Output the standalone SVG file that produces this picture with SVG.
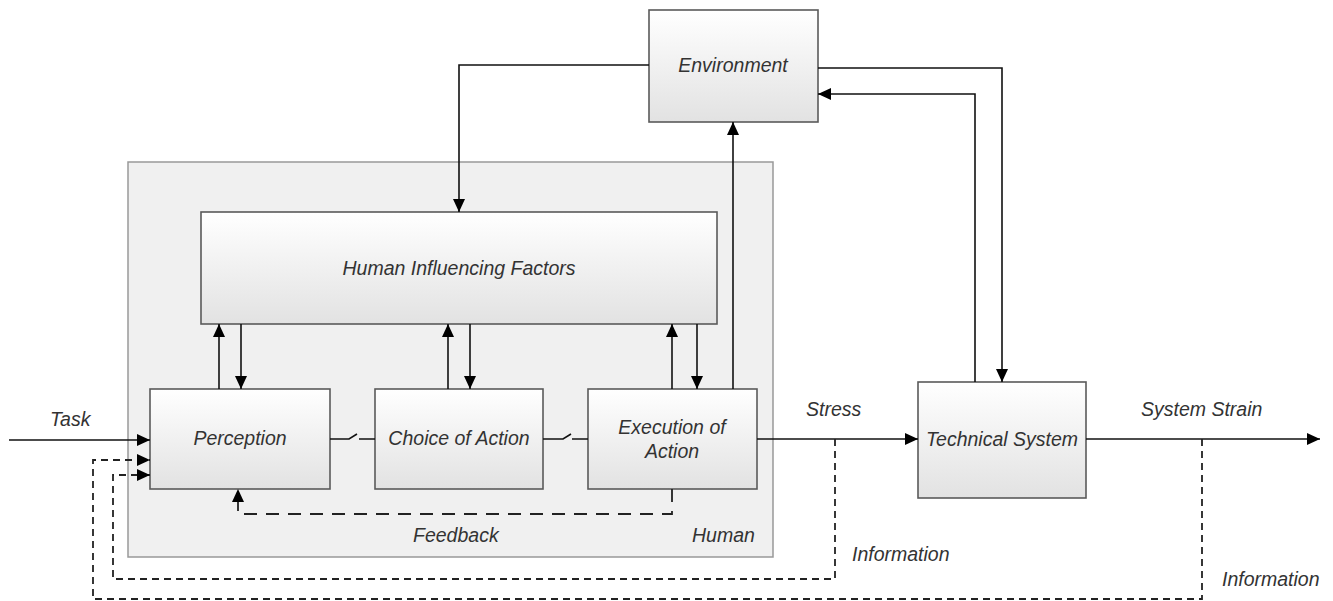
<svg xmlns="http://www.w3.org/2000/svg" width="1333" height="601" viewBox="0 0 1333 601">
  <style>
    .box { fill: url(#boxFill); stroke: #5a5a5a; stroke-width: 1.6; }
    .frame { fill: #f0f0f0; stroke: #999; stroke-width: 1.5; }
    .lbl { font-family: "Liberation Sans", Arial, sans-serif; font-style: italic; font-size: 19.5px; fill: #333; }
    .mid { text-anchor: middle; }
    .ln { fill: none; stroke: #111; stroke-width: 1.6; }
    .arr { marker-end: url(#head); }
    .info { fill: none; stroke: #222; stroke-width: 1.8; stroke-dasharray: 7 5; }
    .fb { fill: none; stroke: #222; stroke-width: 1.8; stroke-dasharray: 13 9; }
  </style>
  <defs>
    <linearGradient id="boxFill" x1="0" y1="0" x2="0" y2="1">
      <stop offset="0" stop-color="#ffffff"/>
      <stop offset="1" stop-color="#e2e2e2"/>
    </linearGradient>
    <marker id="head" markerUnits="userSpaceOnUse" markerWidth="13" markerHeight="12" refX="13" refY="6" orient="auto">
      <path d="M0,0 L13,6 L0,12 z" fill="#000"/>
    </marker>
  </defs>

  <rect width="1333" height="601" fill="#fff"/>

  <!-- container -->
  <g id="human">
    <rect class="frame" x="128" y="162" width="645" height="395"/>
    <text class="lbl" x="692" y="542">Human</text>
  </g>

  <g id="environment">
    <rect class="box" x="649" y="10" width="169" height="112"/>
    <text class="lbl mid" x="733" y="72">Environment</text>
  </g>

  <g id="influencing-factors">
    <rect class="box" x="201" y="212" width="516" height="112"/>
    <text class="lbl mid" x="459" y="275">Human Influencing Factors</text>
  </g>

  <g id="perception">
    <rect class="box" x="150" y="389" width="180" height="100"/>
    <text class="lbl mid" x="240" y="445">Perception</text>
  </g>

  <g id="choice">
    <rect class="box" x="375" y="389" width="168" height="100"/>
    <text class="lbl mid" x="459" y="445">Choice of Action</text>
  </g>

  <g id="execution">
    <rect class="box" x="588" y="389" width="169" height="100"/>
    <text class="lbl mid" x="672" y="434">Execution of</text>
    <text class="lbl mid" x="672" y="458">Action</text>
  </g>

  <g id="technical-system">
    <rect class="box" x="918" y="382" width="168" height="116"/>
    <text class="lbl mid" x="1002" y="446">Technical System</text>
  </g>

  <g id="connectors">
    <!-- main flow -->
    <path class="ln arr" d="M9,440 H150"/>
    <path class="ln" d="M330,439 H349 L357,434 M359,439 H375"/>
    <path class="ln" d="M543,439 H563 L571,434 M572,439 H588"/>
    <path class="ln arr" d="M757,439 H918"/>
    <path class="ln arr" d="M1086,439 H1320"/>

    <!-- influencing factors exchange -->
    <path class="ln arr" d="M219,389 V324"/>
    <path class="ln arr" d="M241,324 V389"/>
    <path class="ln arr" d="M448,389 V324"/>
    <path class="ln arr" d="M470,324 V389"/>
    <path class="ln arr" d="M672,389 V324"/>
    <path class="ln arr" d="M697,324 V389"/>

    <!-- environment loops -->
    <path class="ln arr" d="M733,389 V122"/>
    <path class="ln arr" d="M649,65 H459 V212"/>
    <path class="ln arr" d="M818,68 H1002 V382"/>
    <path class="ln arr" d="M975,382 V94 H818"/>

    <!-- feedback and information -->
    <path class="fb arr" d="M672,489 V514 H238 V489"/>
    <path class="info arr" d="M835,439 V579 H113 V475 H150"/>
    <path class="info arr" d="M1202,439 V599 H93 V460 H150"/>
  </g>

  <g id="labels">
    <text class="lbl" x="50" y="426">Task</text>
    <text class="lbl" x="413" y="542">Feedback</text>
    <text class="lbl" x="806" y="416">Stress</text>
    <text class="lbl" x="1141" y="416">System Strain</text>
    <text class="lbl" x="852" y="561">Information</text>
    <text class="lbl" x="1222" y="586">Information</text>
  </g>
</svg>
